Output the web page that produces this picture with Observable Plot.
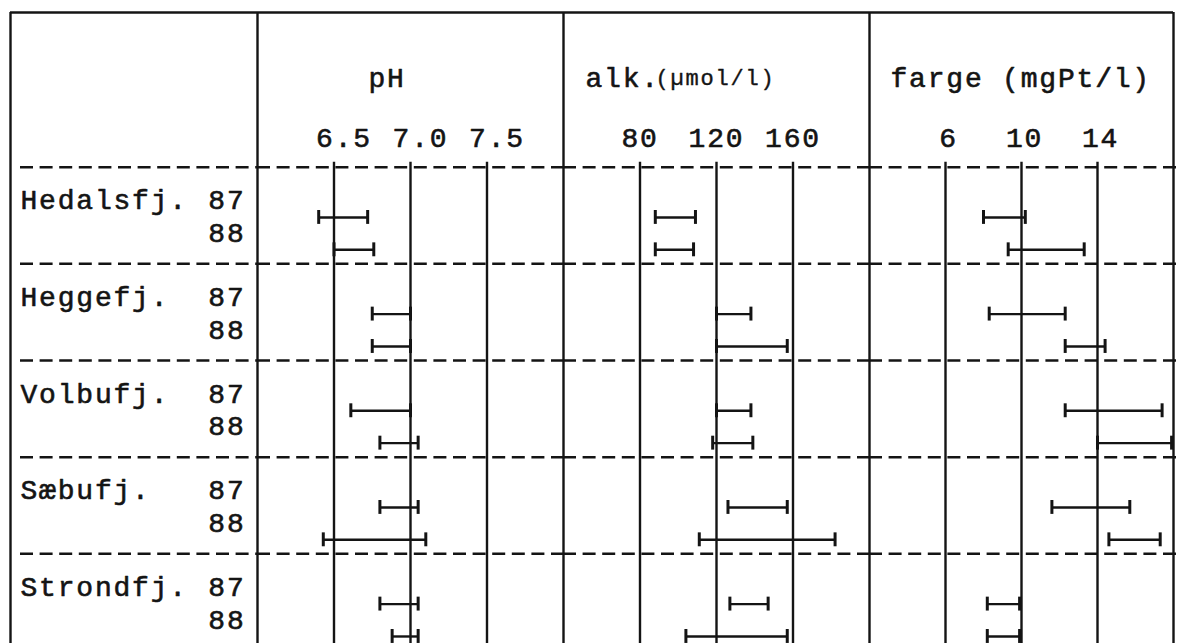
<!DOCTYPE html>
<html>
<head>
<meta charset="utf-8">
<script src="https://cdn.jsdelivr.net/npm/d3@7"></script>
<script src="https://cdn.jsdelivr.net/npm/@observablehq/plot@0.6"></script>
<style>
  body { margin: 0; background: #fff; }
  #fig { position: relative; width: 1178px; height: 643px; overflow: hidden; background: #fff; }
  #fig svg { position: absolute; top: 0; overflow: visible; background: transparent; }
</style>
</head>
<body>
<div id="fig"></div>
<script>
// ---- data ----
const lakes = ["Hedalsfj.", "Heggefj.", "Volbufj.", "Sæbufj.", "Strondfj."];
const years = ["87", "88"];

// order: lake by lake, 87 then 88
const phMin = [6.40, 6.50, 6.75, 6.75, 6.61, 6.80, 6.80, 6.43, 6.80, 6.88];
const phMax = [6.72, 6.76, 7.00, 7.00, 7.00, 7.05, 7.05, 7.10, 7.05, 7.05];
const alkMin = [88, 88, 120, 120, 120, 118, 126, 111, 127, 104];
const alkMax = [109, 108, 138, 157, 138, 139, 157, 182, 147, 157];
const fargeMin = [8.0, 9.3, 8.3, 12.3, 12.3, 14.0, 11.6, 14.6, 8.2, 8.2];
const fargeMax = [10.2, 13.3, 12.3, 14.4, 17.4, 17.9, 15.7, 17.3, 9.9, 9.9];

const phTicks = [6.5, 7.0, 7.5];
const alkTicks = [80, 120, 160];
const fargeTicks = [6, 10, 14];

// ---- layout constants (in code, not data) ----
const H = 643;
const TOP = -1.6, BOTTOM = 5;          // y units: one unit per lake group
const yScale = {domain: [TOP, BOTTOM], range: [12, 650], axis: null};
const BAR_OFF = [0.52, 0.855];
const LAB_OFF = [0.345, 0.68];
const CAP = 0.072;
const HEAD_Y = -0.92, TICK_Y = -0.30;
const ink = "#141414";
const LINE_W = 2.4;
const TXT = {fill: ink, stroke: ink, strokeWidth: 0.6};
const baseStyle = {
  fontFamily: "'Liberation Mono', 'DejaVu Sans Mono', monospace",
  fontSize: "28px",
  letterSpacing: "1.8px",
  color: ink,
  background: "transparent",
  overflow: "visible"
};

const rows = lakes.flatMap((lake, g) => years.map((year, j) => ({lake, year, g, j, k: g * 2 + j})));
const fig = document.getElementById("fig");

function place(svg, left) {
  svg.style.left = left + "px";
  fig.appendChild(svg);
}

// ---- label column ----
{
  const labelRows = rows.map(r => ({...r, yy: r.g + LAB_OFF[r.j]}));
  const svg = Plot.plot({
    width: 247, height: H,
    marginTop: 12, marginBottom: 0, marginLeft: 0, marginRight: 0,
    x: {domain: [0, 1], axis: null},
    y: yScale,
    style: baseStyle,
    marks: [
      Plot.ruleY([TOP], {stroke: ink, strokeWidth: 2.5}),
      Plot.ruleX([0], {y1: TOP, y2: BOTTOM, stroke: ink, strokeWidth: LINE_W}),
      Plot.ruleY(d3.range(lakes.length), {stroke: ink, strokeWidth: 2.5, strokeDasharray: "13,6.6", insetLeft: 10}),
      Plot.text(labelRows.filter(r => r.j === 0), {y: "yy", text: "lake", frameAnchor: "left", dx: 10, textAnchor: "start", ...TXT}),
      Plot.text(labelRows, {y: "yy", text: "year", frameAnchor: "right", dx: -12, textAnchor: "end", ...TXT})
    ]
  });
  place(svg, 10);
}

// ---- value panels ----
function panel({left, width, domain, ticks, fmt, tickDx, lo, hi, headers, last}) {
  const data = rows.map(r => ({...r, lo: lo[r.k], hi: hi[r.k], yy: r.g + BAR_OFF[r.j]}));
  const marks = [
    Plot.ruleY([TOP], {stroke: ink, strokeWidth: 2.5}),
    Plot.ruleX([domain[0]], {y1: TOP, y2: BOTTOM, stroke: ink, strokeWidth: LINE_W}),
    Plot.ruleX(ticks, {y1: -0.05, y2: BOTTOM, stroke: ink, strokeWidth: LINE_W}),
    Plot.ruleY(d3.range(lakes.length), {stroke: ink, strokeWidth: 2.5, strokeDasharray: "13,6.6", insetRight: last ? -5 : 0}),
    Plot.ruleY(data, {y: "yy", x1: "lo", x2: "hi", stroke: ink, strokeWidth: 2.4}),
    Plot.ruleX(data, {x: "lo", y1: d => d.yy - CAP, y2: d => d.yy + CAP, stroke: ink, strokeWidth: 3}),
    Plot.ruleX(data, {x: "hi", y1: d => d.yy - CAP, y2: d => d.yy + CAP, stroke: ink, strokeWidth: 3}),
    Plot.text(ticks, {x: d => d, y: TICK_Y, text: d => fmt(d), dx: tickDx, ...TXT}),
    ...headers.map(h => Plot.text([h.text], {y: HEAD_Y, text: d => d, frameAnchor: "left", dx: h.dx, textAnchor: "start", ...TXT, ...(h.font || {})}))
  ];
  if (last) marks.push(Plot.ruleX([domain[1]], {y1: TOP, y2: BOTTOM, stroke: ink, strokeWidth: LINE_W}));
  const svg = Plot.plot({
    width, height: H,
    marginTop: 12, marginBottom: 0, marginLeft: 0, marginRight: 0,
    x: {domain, axis: null},
    y: yScale,
    style: baseStyle,
    marks
  });
  place(svg, left);
}

panel({left: 257, width: 306, domain: [6, 8], ticks: phTicks, fmt: d3.format(".1f"), tickDx: 10,
  lo: phMin, hi: phMax, headers: [{text: "pH", dx: 111}]});
panel({left: 563, width: 306, domain: [40, 200], ticks: alkTicks, fmt: d3.format("d"), tickDx: 0,
  lo: alkMin, hi: alkMax,
  headers: [{text: "alk.", dx: 22}, {text: "(µmol/l)", dx: 92, font: {fontSize: 22, strokeWidth: 0.4}}]});
panel({left: 869, width: 304, domain: [2, 18], ticks: fargeTicks, fmt: d3.format("d"), tickDx: 3,
  lo: fargeMin, hi: fargeMax, headers: [{text: "farge (mgPt/l)", dx: 21}], last: true});
</script>
</body>
</html>
